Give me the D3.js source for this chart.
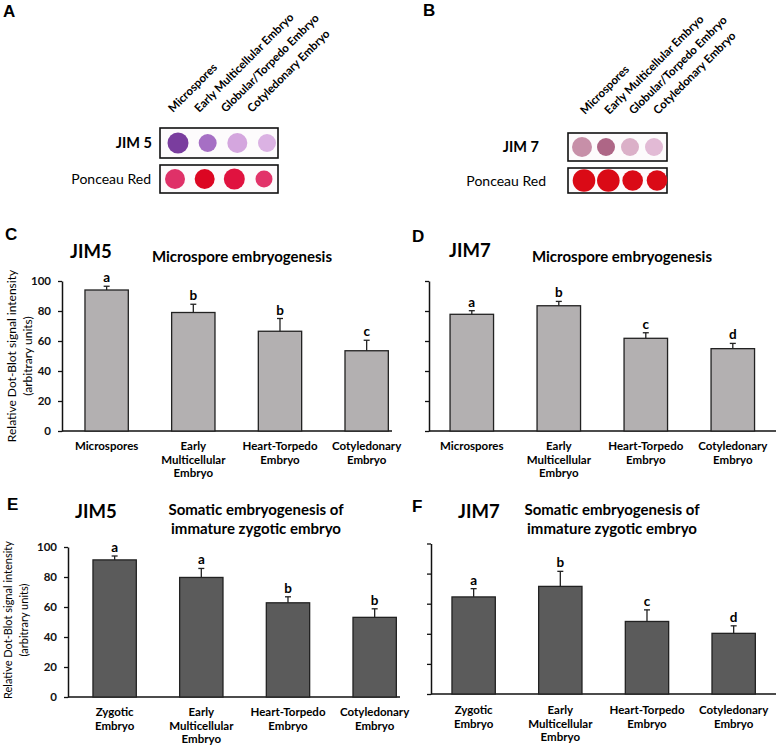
<!DOCTYPE html>
<html>
<head>
<meta charset="utf-8">
<script src="https://cdn.jsdelivr.net/npm/d3@7"></script>
<style>
  body { margin: 0; background: #fff; }
  svg { display: block; font-family: Lato, "Open Sans", sans-serif; }
</style>
</head>
<body>
<div id="fig"></div>
<script>
// ---- dot blots (A, B) ----
var blotStages = ["Microspores", "Early Multicellular Embryo", "Globular/Torpedo Embryo", "Cotyledonary Embryo"];
var jim5Spots = ["#7a3d9e", "#a66fc4", "#d4a6de", "#dbb2e3"];
var jim5Ponceau = ["#df3168", "#dc0622", "#e0123f", "#e2346a"];
var jim7Spots = ["#c78fa8", "#ae6686", "#dbb0c8", "#e2bad5"];
var jim7Ponceau = ["#da0a16", "#da0a16", "#da0a16", "#da0a16"];

// ---- bar charts (C-F) ----
var microStages = ["Microspores", "Early\nMulticellular\nEmbryo", "Heart-Torpedo\nEmbryo", "Cotyledonary\nEmbryo"];
var somaticStages = ["Zygotic\nEmbryo", "Early\nMulticellular\nEmbryo", "Heart-Torpedo\nEmbryo", "Cotyledonary\nEmbryo"];
var yTicks = [0, 20, 40, 60, 80, 100];

var jim5Micro = [94, 79, 66.5, 53.5];
var jim5MicroErr = [2.5, 5.5, 8.5, 7];
var jim5MicroSig = ["a", "b", "b", "c"];

var jim7Micro = [77.8, 83.5, 61.8, 54.9];
var jim7MicroErr = [2.4, 2.9, 3.7, 3.5];
var jim7MicroSig = ["a", "b", "c", "d"];

var jim5Somatic = [91.4, 79.7, 62.8, 53.1];
var jim5SomaticErr = [2.6, 6, 4, 5.7];
var jim5SomaticSig = ["a", "a", "b", "b"];

var jim7Somatic = [64.5, 71.5, 48.2, 40.3];
var jim7SomaticErr = [5.5, 10, 7.7, 5];
var jim7SomaticSig = ["a", "b", "c", "d"];

var W = 778, H = 745;
var svg = d3.select("#fig").append("svg").attr("width", W).attr("height", H);
svg.append("rect").attr("width", W).attr("height", H).attr("fill", "#fff");

function panelLetter(txt, x, y) {
  svg.append("text").attr("x", x).attr("y", y).text(txt)
    .style("font-family", "'Liberation Sans', Arial, sans-serif")
    .style("font-weight", "bold").style("font-size", "17px");
}

// membrane strip with spots
function membrane(cfg) {
  var g = svg.append("g");
  g.append("rect")
    .attr("x", cfg.x0).attr("y", cfg.y0)
    .attr("width", cfg.x1 - cfg.x0).attr("height", cfg.h)
    .attr("fill", "#fdfbfc").attr("stroke", "#111").attr("stroke-width", 1.6);
  var sx = d3.scalePoint().domain(blotStages).range(cfg.spotRange);
  g.selectAll("circle").data(cfg.colors).enter().append("circle")
    .attr("cx", function (d, i) { return sx(blotStages[i]); })
    .attr("cy", cfg.y0 + cfg.h / 2)
    .attr("r", function (d, i) { return cfg.r[i]; })
    .attr("fill", function (d) { return d; });
  g.append("text")
    .attr("x", cfg.labelX).attr("y", cfg.y0 + cfg.h / 2).attr("dy", "0.36em")
    .attr("text-anchor", "end")
    .style("font-size", cfg.bold ? "14.5px" : "14px")
    .style("font-weight", cfg.bold ? "bold" : "normal")
    .text(cfg.label);
}

function blotHeaders(range, baseY) {
  var lx = d3.scalePoint().domain(blotStages).range(range);
  svg.append("g").selectAll("text").data(blotStages).enter().append("text")
    .attr("transform", function (d) { return "translate(" + lx(d) + "," + baseY + ") rotate(-45)"; })
    .style("font-size", "11.5px").style("font-weight", "bold")
    .text(function (d) { return d; });
}

// A
panelLetter("A", 3, 17);
blotHeaders([173, 252], 113);
membrane({ x0: 160, x1: 278, y0: 128, h: 30, spotRange: [178, 267], colors: jim5Spots,
  r: [10.5, 9, 10, 9], label: "JIM 5", bold: true, labelX: 152 });
membrane({ x0: 160, x1: 278, y0: 165, h: 28, spotRange: [175, 264], colors: jim5Ponceau,
  r: [10, 10, 10.5, 8.5], label: "Ponceau Red", bold: false, labelX: 151 });

// B
panelLetter("B", 423, 16);
blotHeaders([585, 658], 115);
membrane({ x0: 568, x1: 667, y0: 133, h: 28, spotRange: [582, 654], colors: jim7Spots,
  r: [10, 9, 9, 9], label: "JIM 7", bold: true, labelX: 539 });
membrane({ x0: 568, x1: 667, y0: 168, h: 25, spotRange: [584, 657], colors: jim7Ponceau,
  r: [11.3, 11.3, 10.3, 10.3], label: "Ponceau Red", bold: false, labelX: 546 });

// bar panels
function barPanel(cfg) {
  var g = svg.append("g");
  var x = d3.scaleBand().domain(cfg.cats).range(cfg.xRange).paddingInner(0.5).paddingOuter(0.25);
  var y = d3.scaleLinear().domain([0, 100]).range(cfg.yRange);

  var ax = g.append("g").attr("transform", "translate(" + cfg.axisX + ",0)")
    .call(d3.axisLeft(y).tickValues(yTicks).tickSize(4).tickSizeOuter(0).tickPadding(7)
      .tickFormat(cfg.tickLabels ? d3.format("d") : function () { return ""; }));
  ax.select(".domain").attr("stroke", "#111").attr("stroke-width", 1.5);
  ax.selectAll(".tick line").attr("stroke", "#111").attr("stroke-width", 1.3);
  ax.selectAll(".tick text").attr("fill", "#111")
    .style("font-family", "Lato, sans-serif").style("font-size", "11.5px").style("font-weight", "bold");

  g.append("line")
    .attr("x1", cfg.axisX).attr("x2", cfg.xEnd)
    .attr("y1", y(0)).attr("y2", y(0))
    .attr("stroke", "#111").attr("stroke-width", 1.5);

  var data = cfg.values.map(function (v, i) {
    return { cat: cfg.cats[i], v: v, e: cfg.err[i], s: cfg.sig[i] };
  });

  g.selectAll("rect.bar").data(data).enter().append("rect").attr("class", "bar")
    .attr("x", function (d) { return x(d.cat); })
    .attr("y", function (d) { return y(d.v); })
    .attr("width", x.bandwidth())
    .attr("height", function (d) { return y(0) - y(d.v); })
    .attr("fill", cfg.fill).attr("stroke", "#222").attr("stroke-width", 1.3);

  var cx = function (d) { return x(d.cat) + x.bandwidth() / 2; };
  g.selectAll("line.err").data(data).enter().append("line").attr("class", "err")
    .attr("x1", cx).attr("x2", cx)
    .attr("y1", function (d) { return y(d.v); })
    .attr("y2", function (d) { return y(d.v + d.e); })
    .attr("stroke", "#222").attr("stroke-width", 1.3);
  g.selectAll("line.cap").data(data).enter().append("line").attr("class", "cap")
    .attr("x1", function (d) { return cx(d) - 3; }).attr("x2", function (d) { return cx(d) + 3; })
    .attr("y1", function (d) { return y(d.v + d.e); })
    .attr("y2", function (d) { return y(d.v + d.e); })
    .attr("stroke", "#222").attr("stroke-width", 1.3);

  g.selectAll("text.sig").data(data).enter().append("text").attr("class", "sig")
    .attr("x", cx).attr("y", function (d) { return y(d.v + d.e) - 4; })
    .attr("text-anchor", "middle")
    .style("font-size", "13.5px").style("font-weight", "bold")
    .text(function (d) { return d.s; });

  var lab = g.selectAll("text.cat").data(data).enter().append("text").attr("class", "cat")
    .attr("text-anchor", "middle")
    .style("font-size", "11.5px").style("font-weight", "bold");
  lab.each(function (d) {
    var t = d3.select(this);
    d.cat.split("\n").forEach(function (line, i) {
      t.append("tspan").attr("x", cx(d)).attr("y", cfg.labelY + i * 13.5).text(line);
    });
  });

  panelLetter(cfg.letter, cfg.letterX, cfg.letterY);
  g.append("text").attr("x", cfg.jimX).attr("y", cfg.jimY)
    .style("font-size", "18.5px").style("font-weight", "bold").text(cfg.jim);
  cfg.title.forEach(function (line, i) {
    g.append("text").attr("x", cfg.titleX).attr("y", cfg.titleY + i * 19)
      .attr("text-anchor", "middle")
      .style("font-size", "15px").style("font-weight", "bold").text(line);
  });

  if (cfg.ylab) {
    var yl = g.append("text").attr("text-anchor", "middle")
      .attr("transform", "translate(" + cfg.ylab.x + "," + cfg.ylab.y + ") rotate(-90)")
      .style("font-size", cfg.ylab.size + "px");
    yl.append("tspan").attr("x", 0).attr("y", 0).text("Relative Dot-Blot signal intensity");
    yl.append("tspan").attr("x", 0).attr("y", cfg.ylab.gap).text("(arbitrary units)");
  }
}

barPanel({ letter: "C", letterX: 5, letterY: 240, jim: "JIM5", jimX: 70, jimY: 258,
  title: ["Microspore embryogenesis"], titleX: 242, titleY: 262,
  cats: microStages, values: jim5Micro, err: jim5MicroErr, sig: jim5MicroSig,
  xRange: [63.3, 410], yRange: [431, 281], axisX: 62, xEnd: 392, tickLabels: true,
  fill: "#b3b0b1", labelY: 450, ylab: { x: 16, y: 356, gap: 16, size: 12 } });

barPanel({ letter: "D", letterX: 412, letterY: 242, jim: "JIM7", jimX: 449, jimY: 257,
  title: ["Microspore embryogenesis"], titleX: 622, titleY: 262,
  cats: microStages, values: jim7Micro, err: jim7MicroErr, sig: jim7MicroSig,
  xRange: [428.3, 776.3], yRange: [431, 281], axisX: 429, xEnd: 776, tickLabels: false,
  fill: "#b3b0b1", labelY: 450 });

barPanel({ letter: "E", letterX: 7, letterY: 510, jim: "JIM5", jimX: 75, jimY: 518,
  title: ["Somatic embryogenesis of", "immature zygotic embryo"], titleX: 256, titleY: 515,
  cats: somaticStages, values: jim5Somatic, err: jim5SomaticErr, sig: jim5SomaticSig,
  xRange: [71.3, 418], yRange: [697, 547], axisX: 68, xEnd: 400, tickLabels: true,
  fill: "#5b5b5b", labelY: 716, ylab: { x: 12, y: 620, gap: 16, size: 11 } });

barPanel({ letter: "F", letterX: 412, letterY: 512, jim: "JIM7", jimX: 458, jimY: 518,
  title: ["Somatic embryogenesis of", "immature zygotic embryo"], titleX: 612, titleY: 515,
  cats: somaticStages, values: jim7Somatic, err: jim7SomaticErr, sig: jim7SomaticSig,
  xRange: [430.3, 777], yRange: [694, 543.5], axisX: 431, xEnd: 776, tickLabels: false,
  fill: "#5b5b5b", labelY: 714 });
</script>
</body>
</html>
